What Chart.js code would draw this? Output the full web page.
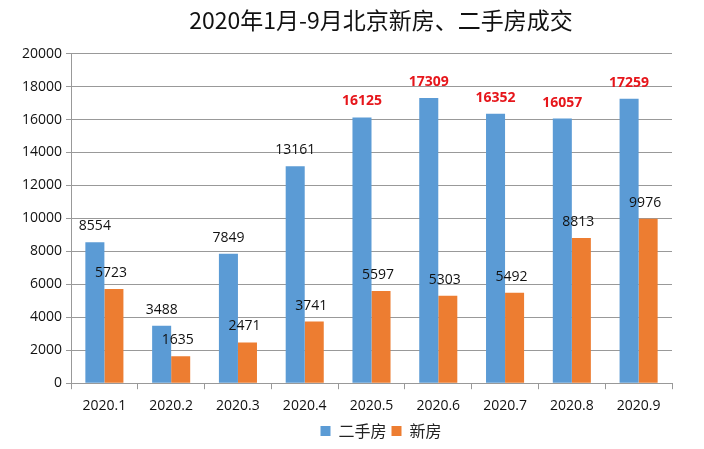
<!DOCTYPE html>
<html><head><meta charset="utf-8">
<script src="https://cdn.jsdelivr.net/npm/chart.js@4/dist/chart.umd.min.js"></script>
<style>html,body{margin:0;padding:0;background:#fff}</style>
</head><body><canvas id="c" width="704" height="449"></canvas>
<script>
const categories = ['2020.1','2020.2','2020.3','2020.4','2020.5','2020.6','2020.7','2020.8','2020.9'];
const secondHand = [8554,3488,7849,13161,16125,17309,16352,16057,17259];
const newHomes = [5723,1635,2471,3741,5597,5303,5492,8813,9976];
const highlightFrom = 4; // 二手房 labels from 2020.5 on are red
const titleText = '2020年1月-9月北京新房、二手房成交';

const labelPlugin = {
  id: 'barLabels',
  afterLayout(chart) {
    // centre title and legend like the reference (slightly right of canvas centre)
    const shift = 45;
    [chart.titleBlock, chart.legend].forEach(b => { if (b) { b.left += shift; b.right += shift; } });
  },
  afterDatasetsDraw(chart) {
    const ctx = chart.ctx;
    chart.data.datasets.forEach((ds, di) => {
      const meta = chart.getDatasetMeta(di);
      meta.data.forEach((bar, i) => {
        const red = di === 0 && i >= highlightFrom;
        ctx.save();
        ctx.font = (red ? 'bold ' : '') + '14px "Open Sans", "DejaVu Sans", sans-serif';
        ctx.fillStyle = red ? '#e6161b' : '#111';
        ctx.textAlign = 'center';
        ctx.textBaseline = 'middle';
        ctx.fillText(String(ds.data[i]), bar.x + (di === 1 ? -3 : 0), bar.y - 16);
        ctx.restore();
      });
    });
  }
};

new Chart(document.getElementById('c'), {
  type: 'bar',
  data: {
    labels: categories,
    datasets: [
      { label: '二手房', data: secondHand, backgroundColor: '#5B9BD5', categoryPercentage: 0.57, barPercentage: 1.0 },
      { label: '新房', data: newHomes, backgroundColor: '#ED7D31', categoryPercentage: 0.57, barPercentage: 1.0 }
    ]
  },
  options: {
    responsive: false,
    animation: false,
    devicePixelRatio: 1,
    layout: { padding: { left: 0, right: 32, top: 6, bottom: 0 } },
    plugins: {
      title: {
        display: true, text: titleText, color: '#111',
        font: { family: '"Noto Sans CJK SC", sans-serif', size: 23, weight: 'normal' },
        padding: { top: 0, bottom: 20 }
      },
      legend: {
        position: 'bottom',
        labels: {
          color: '#222', boxWidth: 10, boxHeight: 10, padding: 5,
          font: { family: '"Noto Sans CJK SC", sans-serif', size: 16 }
        }
      },
      tooltip: { enabled: false }
    },
    scales: {
      x: {
        afterFit(scale) { scale.height -= 4; },
        grid: { display: true, drawOnChartArea: false, drawTicks: true, tickLength: 6, color: '#999', offset: true },
        border: { color: '#999' },
        ticks: { color: '#111', maxRotation: 0, font: { family: '"Open Sans", sans-serif', size: 14 }, padding: 8 }
      },
      y: {
        min: 0, max: 20000,
        afterFit(scale) { scale.width = 71; },
        ticks: { stepSize: 2000, color: '#111', font: { family: '"Open Sans", sans-serif', size: 14 }, padding: 4,
                 callback: v => String(v) },
        grid: { color: '#999', tickLength: 5 },
        border: { color: '#999' }
      }
    }
  },
  plugins: [labelPlugin]
});
</script>
</body></html>
